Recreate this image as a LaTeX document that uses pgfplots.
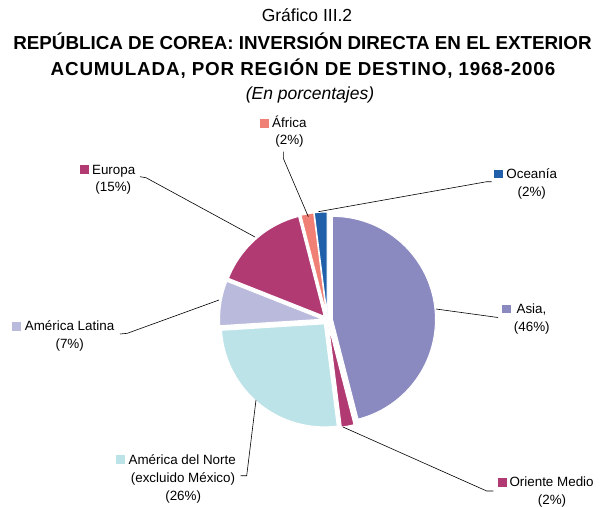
\documentclass[border=0pt]{standalone}
\usepackage{pgfplots}
\pgfplotsset{compat=1.18}
\usepackage{fontspec}
\setmainfont{Liberation Sans}
\definecolor{casia}{RGB}{138,137,192}
\definecolor{cmag}{RGB}{176,58,113}
\definecolor{cnorte}{RGB}{188,227,232}
\definecolor{clat}{RGB}{186,186,221}
\definecolor{cafr}{RGB}{240,128,118}
\definecolor{cocea}{RGB}{32,96,170}
\gdef\pscum{0}
\newcommand{\pieslice}[3]{%
  \pgfmathsetmacro\psA{90-3.6*\pscum}%
  \pgfmathsetmacro\psB{90-3.6*(\pscum+#1)}%
  \pgfmathsetmacro\psM{(\psA+\psB)/2}%
  \pgfmathsetmacro\pscumnew{\pscum+#1}%
  \global\let\pscum\pscumnew
  \edef\pstemp{\noexpand\filldraw[fill=#2, draw=white, line width=1bp, line join=round] ([shift={(\psM:#3bp)}]axis cs:327.5,320) -- ++(\psA:103bp) arc[start angle=\psA, end angle=\psB, radius=103bp] -- cycle;}%
  \pstemp
}
\newcommand{\sq}[1]{\textcolor{#1}{\rule{8.8bp}{8.8bp}}}
\tikzset{lbl/.style={font=\fontsize{13.4bp}{16bp}\selectfont, inner sep=0pt}}
\begin{document}
\begin{tikzpicture}
\begin{axis}[x=1bp, y=1bp, y dir=reverse, xmin=0, xmax=602, ymin=0, ymax=507,
  hide axis, clip=false, scale only axis, anchor=north west, at={(0,0)}]
% slices: value (%), colour, explode
\pieslice{46}{casia}{5}
\pieslice{2}{cmag}{5}
\pieslice{26}{cnorte}{5}
\pieslice{7}{clat}{5}
\pieslice{15}{cmag}{5}
\pieslice{2}{cafr}{5}
\pieslice{2}{cocea}{5}
% leader lines
\addplot[black, line width=0.6bp, no marks] coordinates {(283.3,151.7) (283.3,158.3) (308.3,216.7)};
\addplot[black, line width=0.6bp, no marks] coordinates {(140,176.7) (146,177.7) (255,237)};
\addplot[black, line width=0.6bp, no marks] coordinates {(491.7,181.7) (486.7,181.7) (318.3,211.7)};
\addplot[black, line width=0.6bp, no marks] coordinates {(498,317.5) (436,309)};
\addplot[black, line width=0.6bp, no marks] coordinates {(120,334) (127.3,333.3) (219,300)};
\addplot[black, line width=0.6bp, no marks] coordinates {(240.7,475.7) (246.7,475.7) (256,400)};
\addplot[black, line width=0.6bp, no marks] coordinates {(493.3,491) (486.7,491) (343,427)};
% titles
\node[anchor=base, inner sep=0pt, font=\fontsize{17.5bp}{20bp}\selectfont] at (axis cs:307,21) {Gráfico III.2};
\node[anchor=base, inner sep=0pt, font=\fontsize{18.8bp}{20bp}\selectfont\bfseries] at (axis cs:302.5,49.5) {REPÚBLICA DE COREA: INVERSIÓN DIRECTA EN EL EXTERIOR};
\node[anchor=base, inner sep=0pt, font=\fontsize{18.8bp}{20bp}\selectfont\bfseries\addfontfeatures{LetterSpace=4.5}] at (axis cs:303,75) {ACUMULADA, POR REGIÓN DE DESTINO, 1968-2006};
\node[anchor=base, inner sep=0pt, font=\fontsize{17.5bp}{20bp}\selectfont\itshape] at (axis cs:310,99) {(En porcentajes)};
% labels
\node[lbl, anchor=base west] at (axis cs:260,127.5) {\sq{cafr}\hspace{3.2bp}África};
\node[lbl, anchor=base] at (axis cs:289.5,144) {(2\%)};
\node[lbl, anchor=base west] at (axis cs:79.5,174) {\sq{cmag}\hspace{3.6bp}Europa};
\node[lbl, anchor=base] at (axis cs:113.3,191) {(15\%)};
\node[lbl, anchor=base west] at (axis cs:494,178.3) {\sq{cocea}\hspace{3.4bp}Oceanía};
\node[lbl, anchor=base] at (axis cs:531.8,196) {(2\%)};
\node[lbl, anchor=base west] at (axis cs:502,313.3) {\sq{casia}\hspace{5.6bp}Asia,};
\node[lbl, anchor=base] at (axis cs:531.8,331.7) {(46\%)};
\node[lbl, anchor=base west] at (axis cs:12.3,330.7) {\sq{clat}\hspace{3.6bp}América Latina};
\node[lbl, anchor=base] at (axis cs:69.7,348.3) {(7\%)};
\node[lbl, anchor=base west] at (axis cs:116,464) {\sq{cnorte}\hspace{3.6bp}América del Norte};
\node[lbl, anchor=base] at (axis cs:183,482.7) {(excluido México)};
\node[lbl, anchor=base] at (axis cs:183.2,500) {(26\%)};
\node[lbl, anchor=base west] at (axis cs:497.7,486.7) {\sq{cmag}\hspace{2.8bp}Oriente Medio};
\node[lbl, anchor=base] at (axis cs:552,504) {(2\%)};
\end{axis}
\pgfresetboundingbox
\path[use as bounding box] (current axis.south west) rectangle (current axis.north east);
\end{tikzpicture}
\end{document}
